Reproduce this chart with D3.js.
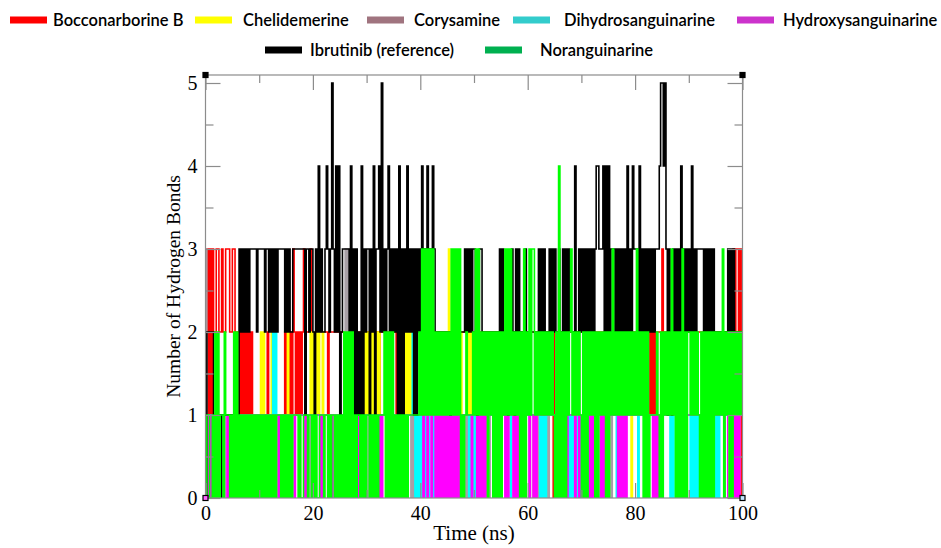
<!DOCTYPE html>
<html><head><meta charset="utf-8">
<script src="https://cdn.jsdelivr.net/npm/d3@7"></script>
<style>body{margin:0;background:#fff}svg{display:block}</style>
</head><body>
<svg id="chart" width="941" height="548"></svg>
<script>
// ---------- DATA ----------
// Each series: 10 chunks of 10 ns; each chunk = 10 groups of 4 samples (0.25 ns per sample).
const seriesNames = ["Bocconarborine B","Chelidemerine","Corysamine","Dihydrosanguinarine","Hydroxysanguinarine","Ibrutinib (reference)","Noranguinarine"];
const legendColors = ["#ff0000","#ffff00","#a0747f","#33cccc","#cc33cc","#000000","#00b050"];
const lineColors   = ["#ff0000","#ffff00","#a8a0a6","#00ffff","#ff00ff","#000000","#00ff00"];
const xTickValues = [0,20,40,60,80,100];
const xMinorTicks = [10,30,50,70,90];
const yTickValues = [0,1,2,3,4,5];
const yMinorTicks = [0.5,1.5,2.5,3.5,4.5];

const bocconarborineB = [
 "1313 1322 3322 3223 3322 3322 2121 2121 2121 1111",
 "1111 1121 1111 1111 1112 1212 1321 2121 2312 2232",
 "2222 2222 2221 2222 2222 2222 2222 2222 2222 2212",
 "2122 2221 2122 2222 2222 2212 2222 2132 1222 2222",
 "2222 2222 2222 2222 2222 2222 2222 2222 2221 2121",
 "2222 2222 2222 2222 2222 2222 2222 2222 2222 2222",
 "2222 2222 2222 2222 2220 2222 2222 2222 2222 2222",
 "2222 2222 2222 2222 2222 2222 2222 2222 2222 2222",
 "2222 2222 2221 2121 2222 3222 2222 1222 2222 2222",
 "2222 2222 2222 2222 2222 2222 2222 2222 2323 3230"
];
const chelidemerine = [
 "1111 1111 1111 1111 1111 1111 1111 1111 1111 1111",
 "1212 1111 1212 1111 1111 1211 1111 1111 1111 1121",
 "2121 2112 1111 1111 1111 1111 1111 1111 1111 1121",
 "2121 2112 1211 1111 1111 1111 1111 1212 1211 1111",
 "1111 1111 1111 1111 1111 1312 1212 1121 1112 1211",
 "1111 1111 1111 1111 1111 1111 1111 1111 1111 1111",
 "1111 1111 1011 0110 1111 1111 1111 1111 1111 1111",
 "1111 1111 1111 1111 1111 1111 1111 1111 1111 1011",
 "1111 1111 1111 1111 1111 1111 1111 1111 1111 1111",
 "1111 1111 1111 1111 1111 1111 1111 1111 1111 1111"
];
const corysamine = [
 "3101 1011 0110 1101 1011 0111 1111 1111 1111 1111",
 "1111 1111 1111 1111 1111 1111 1111 1111 1111 1101",
 "1111 1111 1110 1111 1111 1112 3231 1111 1111 1111",
 "1011 1111 1111 1111 1111 1111 1111 1111 1010 1101",
 "1011 0111 1101 1111 1111 1111 1111 1101 0101 1010",
 "1011 1111 1010 1101 1111 1111 1111 1111 1111 1111",
 "1011 0110 1101 1110 1111 1111 1111 1110 1011 0111",
 "1111 1111 1111 1111 1111 1101 1111 1111 1111 1111",
 "1111 1111 1111 1111 1111 1111 1111 1111 1111 1111",
 "1111 1111 1111 1111 1111 1111 1111 1111 1111 1111"
];
const dihydrosanguinarine = [
 "1111 1111 1111 1111 1111 1111 1111 1111 1111 1111",
 "1111 1111 1121 2111 1111 1111 1111 1111 1111 1111",
 "1111 1111 1111 1111 1111 1111 1111 1111 1111 1111",
 "1111 1111 1111 1111 1111 1111 1111 1111 1121 0101",
 "0110 1010 0101 1011 1111 1111 1111 1111 1111 0101",
 "0111 1111 1111 1111 1111 1111 1110 1111 1111 1111",
 "1111 1111 1010 1011 1111 1111 1111 1101 0101 1010",
 "1111 1111 1111 1111 1111 1111 1101 1011 1111 1111",
 "1101 1111 1111 1111 1111 1111 1101 0111 1111 1111",
 "1010 1010 1111 1111 1111 0101 1111 1111 1111 1111"
];
const hydroxysanguinarine = [
 "1011 0110 1101 1011 0111 1011 1111 1111 1111 1111",
 "1111 1111 1111 1101 1111 1111 1101 1111 1101 1111",
 "1111 1010 1111 1101 1111 1111 1111 1111 1101 1111",
 "1111 1111 1010 1111 1111 1111 1111 1111 1111 1111",
 "1101 1011 0110 1010 1010 1010 1010 1011 1111 1101",
 "1101 0101 0111 1111 1111 1110 1011 1010 1011 1111",
 "1011 0101 1111 1111 1111 1111 1111 1011 1110 1101",
 "1111 1010 1011 1101 0111 1111 1110 1010 1011 1111",
 "1111 1111 1111 1010 1011 1111 1111 1111 1111 1111",
 "1111 1111 1111 1111 1111 1111 1110 0111 1010 1011"
];
const ibrutinib = [
 "0222 2210 1110 1111 1111 1111 0323 2323 2333 3323",
 "3333 2332 3232 3233 3332 3232 2333 3333 3313 3233",
 "2132 4232 2343 2353 2424 1233 3332 4131 3121 4132",
 "3313 2413 3425 2323 4232 3231 4131 3242 3231 3132",
 "3433 3433 3432 2222 2222 2212 2222 2222 2323 2323",
 "3212 3322 2222 2221 2223 2322 2122 3213 2322 2232",
 "2222 2222 3232 3222 3232 3213 2131 3232 2224 2232",
 "3232 3232 3234 4333 4242 4233 3232 3232 3242 3243",
 "3324 2323 2323 2323 3345 5453 1321 3232 3242 3232",
 "3242 3233 3332 3231 3232 2222 2222 2313 2322 2222"
];
const noranguinarine = [
 "0110 0102 0201 1021 1101 0202 0101 0101 0101 0101",
 "0101 0101 0101 0111 0101 0101 0111 1010 0111 0110",
 "1010 0111 0110 1011 0101 0102 0202 0201 0110 1010",
 "1101 0101 0111 1202 0202 0101 0101 0101 1111 1112",
 "1313 1313 1312 1212 1212 1213 1313 1301 0121 1112",
 "1313 1212 1202 1202 0202 0213 1313 1212 1202 0302",
 "1313 3121 2121 2121 2121 0204 0202 0212 3121 2121",
 "0202 0212 1202 0212 1202 0213 1212 1212 1212 1212",
 "1312 1202 0201 1111 2102 0212 1213 1202 0203 0202",
 "2121 2121 0202 0202 0202 1212 1302 1202 0212 1212"
];
const seriesData = [bocconarborineB, chelidemerine, corysamine, dihydrosanguinarine, hydroxysanguinarine, ibrutinib, noranguinarine];

// ---------- PARSE ----------
function parseSeries(chunks){
  const pts = [];
  chunks.forEach((s, c) => {
    const d = s.replace(/\s+/g, "");
    const n = d.length;
    for (let j = 0; j < n; j++) pts.push({t: c*10 + j*10/n, v: +d[j]});
  });
  pts.push({t: 100, v: pts[pts.length-1].v});
  return pts;
}

// ---------- LAYOUT ----------
const svg = d3.select("#chart");
const X0 = 205.5, X1 = 742.5, Y0 = 498, YTOP = 75;
const x = d3.scaleLinear().domain([0,100]).range([X0, X1]);
const y = d3.scaleLinear().domain([0,5]).range([Y0, 83]);

svg.append("defs").append("clipPath").attr("id","plotclip")
  .append("rect").attr("x",X0).attr("y",YTOP).attr("width",X1-X0).attr("height",Y0-YTOP);

// series lines (trajectory frames joined by vertical jumps)
const line = d3.line().x(d => x(d.t)).y(d => y(d.v)).curve(d3.curveStepAfter);
const gLines = svg.append("g").attr("clip-path","url(#plotclip)");
seriesData.forEach((chunks, i) => {
  gLines.append("path")
    .datum(parseSeries(chunks))
    .attr("d", line)
    .attr("fill","none")
    .attr("stroke", lineColors[i])
    .attr("stroke-width", 1.6)
    .attr("stroke-linejoin","miter");
});

// frame
const frameColor = "#8c8c8c";
svg.append("rect").attr("x",X0).attr("y",YTOP).attr("width",X1-X0).attr("height",Y0-YTOP)
  .attr("fill","none").attr("stroke",frameColor).attr("stroke-width",1.2);

function styleAxis(g){
  g.select(".domain").remove();
  g.selectAll(".tick line").attr("stroke",frameColor).attr("stroke-width",1.2);
  g.selectAll(".tick text").attr("font-family","'Liberation Serif','Times New Roman',serif")
    .attr("font-size",20).attr("fill","#000");
}
// bottom major + minor
svg.append("g").attr("transform",`translate(0,${Y0})`)
  .call(d3.axisBottom(x).tickValues(xTickValues).tickSize(-15).tickPadding(8).tickFormat(d3.format("d")))
  .call(styleAxis);
svg.append("g").attr("transform",`translate(0,${Y0})`)
  .call(d3.axisBottom(x).tickValues(xMinorTicks).tickSize(-8).tickFormat(""))
  .call(styleAxis);
// top
svg.append("g").attr("transform",`translate(0,${YTOP})`)
  .call(d3.axisTop(x).tickValues(xTickValues).tickSize(-15).tickFormat(""))
  .call(styleAxis);
svg.append("g").attr("transform",`translate(0,${YTOP})`)
  .call(d3.axisTop(x).tickValues(xMinorTicks).tickSize(-8).tickFormat(""))
  .call(styleAxis);
// left
svg.append("g").attr("transform",`translate(${X0},0)`)
  .call(d3.axisLeft(y).tickValues(yTickValues).tickSize(-15).tickPadding(8).tickFormat(d3.format("d")))
  .call(styleAxis);
svg.append("g").attr("transform",`translate(${X0},0)`)
  .call(d3.axisLeft(y).tickValues(yMinorTicks).tickSize(-8).tickFormat(""))
  .call(styleAxis);
// right
svg.append("g").attr("transform",`translate(${X1},0)`)
  .call(d3.axisRight(y).tickValues(yTickValues).tickSize(-15).tickFormat(""))
  .call(styleAxis);
svg.append("g").attr("transform",`translate(${X1},0)`)
  .call(d3.axisRight(y).tickValues(yMinorTicks).tickSize(-8).tickFormat(""))
  .call(styleAxis);

// corner handles
[[X0,YTOP,"#000"],[X1,YTOP,"#000"],[X0,Y0,"#ff66ff"],[X1,Y0,"#bfe6ff"]].forEach(([cx,cy,f]) => {
  svg.append("rect").attr("x",cx-2.5).attr("y",cy-2.5).attr("width",5).attr("height",5)
    .attr("fill",f).attr("stroke","#000").attr("stroke-width",1.2);
});

// axis titles
svg.append("text").attr("x",(X0+X1)/2).attr("y",540).attr("text-anchor","middle")
  .attr("font-family","'Liberation Serif','Times New Roman',serif").attr("font-size",21)
  .text("Time (ns)");
svg.append("text").attr("transform",`translate(180,${(Y0+YTOP)/2}) rotate(-90)`).attr("text-anchor","middle")
  .attr("font-family","'Liberation Serif','Times New Roman',serif").attr("font-size",19.5)
  .text("Number of Hydrogen Bonds");

// legend
const legendPos = [
  {sx:10,  tx:53,  cy:20},
  {sx:195, tx:243, cy:20},
  {sx:367, tx:414, cy:20},
  {sx:513, tx:564, cy:20},
  {sx:737, tx:783, cy:20},
  {sx:265, tx:310, cy:50},
  {sx:485, tx:540, cy:50}
];
const gLeg = svg.append("g");
seriesNames.forEach((name, i) => {
  const p = legendPos[i];
  gLeg.append("rect").attr("x",p.sx).attr("y",p.cy-3.5).attr("width",37).attr("height",7).attr("fill",legendColors[i]);
  gLeg.append("text").attr("x",p.tx).attr("y",p.cy+5.5)
    .attr("font-family","Lato, 'Open Sans', sans-serif").attr("font-size",16.5)
    .attr("font-weight",600).attr("fill","#000")
    .text(name);
});
</script>
</body></html>
